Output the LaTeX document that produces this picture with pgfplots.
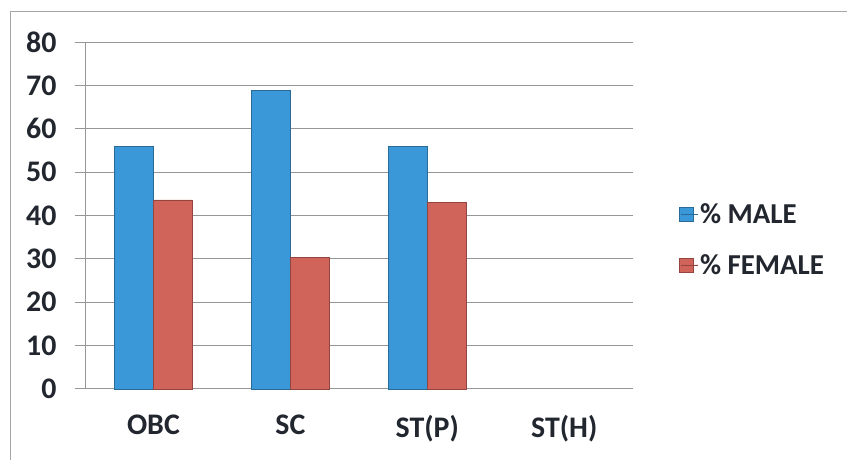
\documentclass[border=0pt]{standalone}
\usepackage{pgfplots}
\pgfplotsset{compat=1.18}
\usepackage{fontspec}
\setmainfont{Carlito}

\definecolor{malebar}{RGB}{58,152,216}
\definecolor{femalebar}{RGB}{208,100,90}
\definecolor{gridgray}{RGB}{150,150,150}
\definecolor{txt}{RGB}{34,38,46}

\begin{document}
\begin{tikzpicture}
% page frame 847 x 460 bp
\path[fill=white] (0,0) rectangle (847bp,460bp);
\draw[gray!70, line width=0.8bp] (10bp,0bp) -- (10bp,449bp) -- (847bp,449bp);
\begin{axis}[
  at={(85bp,71bp)}, anchor=south west,
  scale only axis,
  width=548bp, height=347bp,
  xmin=-0.5, xmax=3.5,
  ymin=0, ymax=80,
  ytick={0,10,...,80},
  xtick={0,1,2,3},
  xticklabels={OBC,SC,ST(P),ST(H)},
  major x tick style={draw=none},
  extra x ticks={-0.5,0.5,1.5,2.5,3.5},
  extra x tick labels={},
  extra x tick style={major tick length=9bp, tick pos=left, tick align=outside, grid=none,
    major tick style={draw=gridgray, line width=0.8bp}},
  axis x line*=bottom,
  axis y line*=left,
  axis line style={draw=gridgray, line width=0.8bp, -},
  ymajorgrids,
  grid style={draw=gridgray, line width=0.8bp},
  y tick style={draw=gridgray, line width=0.8bp},
  ytick align=outside,
  major tick length=10bp,
  ybar=0pt,
  bar width=39bp,
  tick label style={font=\fontsize{30}{34}\selectfont\bfseries, text=txt},
  /pgf/number format/assume math mode=true,
  yticklabel style={xshift=-15bp},
  xticklabel style={yshift=-13bp},
  legend style={
    at={(1.078,0.43)}, anchor=west, draw=none, fill=none,
    font=\fontsize{29}{33}\selectfont\bfseries, text=txt,
    row sep=25bp,
  },
  legend cell align=left,
  % square key with a little space before its text
  legend image code/.code={\draw[#1] (-2bp,-7bp) rectangle (12bp,7bp);
    \path (0bp,0bp) -- (17bp,0bp);},
  clip=false,
]
\addplot[fill=malebar, draw=malebar!70!black, line width=0.4bp]
  coordinates {(0,55.9) (1,68.8) (2,56.0)};
\addplot[fill=femalebar, draw=femalebar!70!black, line width=0.4bp]
  coordinates {(0,43.6) (1,30.4) (2,43.0)};
\legend{\% MALE, \% FEMALE}
\end{axis}
\end{tikzpicture}
\end{document}
